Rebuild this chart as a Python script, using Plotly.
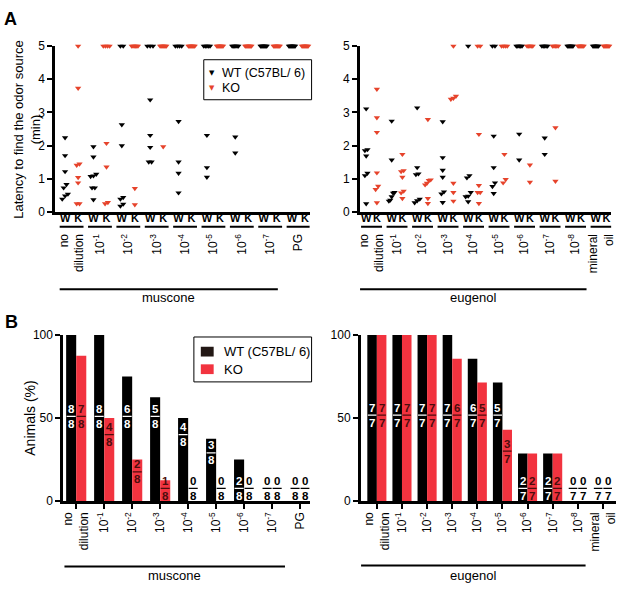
import plotly.graph_objects as go

FIG_W, FIG_H = 640, 591
FONT = "Liberation Sans, Arial, sans-serif"

# ---------------- data ----------------
mus_groups = ["no<br>dilution", "10<sup>-1</sup>", "10<sup>-2</sup>", "10<sup>-3</sup>",
              "10<sup>-4</sup>", "10<sup>-5</sup>", "10<sup>-6</sup>", "10<sup>-7</sup>", "PG"]
eug_groups = ["no<br>dilution", "10<sup>-1</sup>", "10<sup>-2</sup>", "10<sup>-3</sup>",
              "10<sup>-4</sup>", "10<sup>-5</sup>", "10<sup>-6</sup>", "10<sup>-7</sup>",
              "10<sup>-8</sup>", "mineral<br>oil"]
genotype_ticks = ["W", "K"]

# Panel A: latency to find the odor source (min), 5 = cut-off
mus_wt_lat = [
    [2.24, 1.70, 1.22, 0.83, 0.73, 0.54, 0.49, 0.39],
    [1.97, 1.66, 1.14, 1.09, 1.07, 0.73, 0.73, 0.37],
    [5, 5, 2.63, 2.00, 0.44, 0.39, 0.24, 0.18],
    [5, 5, 5, 3.38, 2.31, 1.95, 1.51, 1.51],
    [5, 5, 5, 5, 2.73, 1.51, 1.17, 0.58],
    [5, 5, 5, 5, 5, 2.31, 1.34, 1.05],
    [5, 5, 5, 5, 5, 5, 2.26, 1.78],
    [5, 5, 5, 5, 5, 5, 5, 5],
    [5, 5, 5, 5, 5, 5, 5, 5],
]
mus_ko_lat = [
    [5, 3.73, 1.45, 1.41, 1.04, 0.88, 0.25, 0.25],
    [5, 5, 5, 5, 2.07, 1.36, 0.29, 0.25],
    [5, 5, 5, 5, 5, 5, 0.71, 0.22],
    [5, 5, 5, 5, 5, 5, 5, 1.97],
    [5, 5, 5, 5, 5, 5, 5, 5],
    [5, 5, 5, 5, 5, 5, 5, 5],
    [5, 5, 5, 5, 5, 5, 5, 5],
    [5, 5, 5, 5, 5, 5, 5, 5],
    [5, 5, 5, 5, 5, 5, 5, 5],
]
eug_wt_lat = [
    [3.11, 1.88, 1.85, 1.69, 1.17, 1.10, 0.25],
    [2.74, 1.57, 0.59, 0.57, 0.46, 0.36, 0.33],
    [3.14, 1.34, 1.15, 1.13, 0.39, 0.34, 0.28],
    [2.72, 1.64, 1.26, 1.05, 0.61, 0.55, 0.29],
    [5, 1.10, 1.03, 0.59, 0.48, 0.46, 0.31],
    [5, 5, 2.29, 1.34, 0.88, 0.77, 0.56],
    [5, 5, 5, 5, 5, 2.35, 1.57],
    [5, 5, 5, 5, 5, 2.23, 1.74],
    [5, 5, 5, 5, 5, 5, 5],
    [5, 5, 5, 5, 5, 5, 5],
]
eug_ko_lat = [
    [3.70, 2.84, 2.40, 1.18, 0.78, 0.68, 0.28],
    [1.74, 1.25, 1.22, 1.05, 0.63, 0.58, 0.41],
    [2.79, 0.97, 0.95, 0.87, 0.82, 0.41, 0.26],
    [5, 3.49, 3.43, 3.40, 0.87, 0.59, 0.33],
    [5, 5, 2.34, 0.80, 0.59, 0.59, 0.26],
    [5, 5, 5, 5, 1.74, 0.98, 0.88],
    [5, 5, 5, 5, 5, 1.42, 0.90],
    [5, 5, 5, 5, 5, 2.54, 0.93],
    [5, 5, 5, 5, 5, 5, 5],
    [5, 5, 5, 5, 5, 5, 5],
]

# Panel B: animals (%) that found the source, with counts
mus_wt_pct = [100, 100, 75, 62.5, 50, 37.5, 25, 0, 0]
mus_ko_pct = [87.5, 50, 25, 12.5, 0, 0, 0, 0, 0]
mus_wt_found = [8, 8, 6, 5, 4, 3, 2, 0, 0]
mus_ko_found = [7, 4, 2, 1, 0, 0, 0, 0, 0]
mus_n = 8
eug_wt_pct = [100, 100, 100, 100, 85.7, 71.4, 28.6, 28.6, 0, 0]
eug_ko_pct = [100, 100, 100, 85.7, 71.4, 42.9, 28.6, 28.6, 0, 0]
eug_wt_found = [7, 7, 7, 7, 6, 5, 2, 2, 0, 0]
eug_ko_found = [7, 7, 7, 6, 5, 3, 2, 2, 0, 0]
eug_n = 7

# vertical placement (in % units) of the fraction labels
mus_wt_labpos = [51, 51, 51, 51, 40, 29, 7.6, 7.6, 7.6]
mus_ko_labpos = [51, 40, 17.6, 7.6, 7.6, 7.6, 7.6, 7.6, 7.6]
eug_wt_labpos = [51.7, 51.7, 51.7, 51.7, 51.7, 51.7, 7.6, 7.6, 7.6, 7.6]
eug_ko_labpos = [51.7, 51.7, 51.7, 51.7, 51.7, 30, 7.6, 7.6, 7.6, 7.6]

# ---------------- styles ----------------
WT_PT = "#000000"
KO_PT = "#e6432b"
WT_BAR = "#000000"
KO_BAR = "#f2333f"
WT_SWATCH = "#231815"
KO_TXT = "#4d0d0d"


def px(x):
    return x / FIG_W


def py(y):
    return 1 - y / FIG_H


def spread(vals, base, thr=0.12, step=0.1, maxw=0.22):
    order = sorted(range(len(vals)), key=lambda i: vals[i])
    xs = [base] * len(vals)
    clusters, cur = [], [order[0]]
    for i in order[1:]:
        if vals[i] - vals[cur[-1]] < thr:
            cur.append(i)
        else:
            clusters.append(cur)
            cur = [i]
    clusters.append(cur)
    for c in clusters:
        k = len(c)
        if k < 2:
            continue
        s = min(step, maxw / (k - 1))
        for j, i in enumerate(c):
            xs[i] = base + (j - (k - 1) / 2) * s
    return xs


# x-axis geometry (pixel domain + data range)
xA1 = dict(domain=[px(53), px(310)], range=[-0.57, 8.39])
xA2 = dict(domain=[px(361), px(615)], range=[-0.45, 9.4])
xB1 = dict(domain=[px(61), px(310)], range=[-0.46, 8.34])
xB2 = dict(domain=[px(362), px(620)], range=[-0.63, 9.53])

fig = go.Figure()
shapes = []
annots = []

# ---------------- Panel A ----------------
panelA = [
    ("x", "y", "x5", mus_wt_lat, mus_ko_lat, 0.23, 0.42, mus_groups),
    ("x2", "y2", "x6", eug_wt_lat, eug_ko_lat, 0.21, 0.41, eug_groups),
]
for xa, ya, xcat, wt, ko, off, ul, groups in panelA:
    for lat, sign, col, name in [(wt, -1, WT_PT, "WT (C57BL/ 6)"), (ko, 1, KO_PT, "KO")]:
        xs, ys = [], []
        for g, vals in enumerate(lat):
            xs += spread(vals, g + sign * off)
            ys += vals
        fig.add_trace(go.Scatter(
            x=xs, y=ys, mode="markers", xaxis=xa, yaxis=ya, name=name,
            showlegend=False, cliponaxis=False,
            marker=dict(symbol="triangle-down", size=5.5, color=col, line=dict(width=0)),
        ))
    fig.add_trace(go.Scatter(x=list(range(len(groups))), y=[None] * len(groups),
                             xaxis=xcat, yaxis=ya, mode="markers", showlegend=False,
                             hoverinfo="skip"))
    for g in range(len(groups)):
        shapes.append(dict(type="line", xref=xa, yref="paper", x0=g - ul, x1=g + ul,
                           y0=py(225), y1=py(225), line=dict(color="black", width=2)))

# ---------------- Panel B ----------------
panelB = [
    ("x3", "y3", "x7", mus_wt_pct, mus_ko_pct, mus_wt_found, mus_ko_found, mus_n,
     mus_wt_labpos, mus_ko_labpos, 0.36, mus_groups),
    ("x4", "y4", "x8", eug_wt_pct, eug_ko_pct, eug_wt_found, eug_ko_found, eug_n,
     eug_wt_labpos, eug_ko_labpos, 0.38, eug_groups),
]
for xa, ya, xcat, wpct, kpct, wf, kf, n, wl, kl, bw, groups in panelB:
    idx = list(range(len(groups)))
    fig.add_trace(go.Bar(x=idx, y=wpct, xaxis=xa, yaxis=ya, name="WT (C57BL/ 6)",
                         width=bw, offset=-bw, marker=dict(color=WT_BAR, line=dict(width=0)),
                         showlegend=False))
    fig.add_trace(go.Bar(x=idx, y=kpct, xaxis=xa, yaxis=ya, name="KO",
                         width=bw, offset=0, marker=dict(color=KO_BAR, line=dict(width=0)),
                         showlegend=False))
    fig.add_trace(go.Scatter(x=idx, y=[None] * len(idx), xaxis=xcat, yaxis=ya,
                             mode="markers", showlegend=False, hoverinfo="skip"))
    for i in idx:
        for pct, found, lp, cx, inside_col in [
            (wpct[i], wf[i], wl[i], i - bw / 2, "white"),
            (kpct[i], kf[i], kl[i], i + bw / 2, KO_TXT),
        ]:
            col = inside_col if pct > lp + 3 else "black"
            annots.append(dict(xref=xa, yref=ya, x=cx, y=lp, text=f"{found}<br>{n}",
                               showarrow=False, xanchor="center", yanchor="middle",
                               font=dict(size=11.5, family=FONT, color=col, weight="bold")))
            hw = bw * 0.45
            shapes.append(dict(type="line", xref=xa, yref=ya, x0=cx - hw, x1=cx + hw,
                               y0=lp, y1=lp, line=dict(color=col, width=1.3)))

# ---------------- odor group lines ----------------
for xa, x0, x1, yl, yt, txt in [
    ("x", -0.42, 7.27, 289, 298, "muscone"),
    ("x2", -0.48, 8.43, 289, 298, "eugenol"),
    ("x3", -0.42, 7.46, 573, 582, "muscone"),
    ("x4", -0.63, 8.31, 572, 582, "eugenol"),
]:
    shapes.append(dict(type="line", xref=xa, yref="paper", x0=x0, x1=x1, y0=py(yl), y1=py(yl),
                       line=dict(color="black", width=2)))
    annots.append(dict(xref=xa, yref="paper", x=(x0 + x1) / 2, y=py(yt), text=txt,
                       showarrow=False, xanchor="center", yanchor="middle",
                       font=dict(size=13, family=FONT, color="black")))

# ---------------- y-axis titles ----------------
annots.append(dict(xref="paper", yref="paper", x=px(24), y=py(125),
                   text="Latency to find the odor source<br>(min)", showarrow=False,
                   textangle=-90, xanchor="center", yanchor="middle",
                   font=dict(size=13, family=FONT, color="black")))
annots.append(dict(xref="paper", yref="paper", x=px(27), y=py(421), text="Animals (%)",
                   showarrow=False, textangle=-90, xanchor="center", yanchor="middle",
                   font=dict(size=14, family=FONT, color="black")))

# ---------------- manual legends ----------------
shapes.append(dict(type="rect", xref="paper", yref="paper", x0=px(203), x1=px(312),
                   y0=py(54), y1=py(95), line=dict(color="black", width=1), fillcolor="white"))
for yy, col, txt in [(68, WT_PT, "WT (C57BL/ 6)"), (83, KO_PT, "KO")]:
    annots.append(dict(xref="paper", yref="paper", x=px(211), y=py(yy), text="▼",
                       showarrow=False, xanchor="center", yanchor="middle",
                       font=dict(size=7, family="DejaVu Sans", color=col)))
    annots.append(dict(xref="paper", yref="paper", x=px(219), y=py(yy), text=txt,
                       showarrow=False, xanchor="left", yanchor="middle",
                       font=dict(size=12.5, family=FONT, color="black")))
shapes.append(dict(type="rect", xref="paper", yref="paper", x0=px(193), x1=px(312),
                   y0=py(338), y1=py(384), line=dict(color="black", width=1), fillcolor="white"))
for y0, y1, col, txt in [(348, 358, WT_SWATCH, "WT (C57BL/ 6)"), (366, 376, KO_BAR, "KO")]:
    shapes.append(dict(type="rect", xref="paper", yref="paper", x0=px(200), x1=px(213),
                       y0=py(y0), y1=py(y1), line=dict(width=0), fillcolor=col))
    annots.append(dict(xref="paper", yref="paper", x=px(221), y=py((y0 + y1) / 2), text=txt,
                       showarrow=False, xanchor="left", yanchor="middle",
                       font=dict(size=13, family=FONT, color="black")))

for xx, yy, t in [(8, 12, "A"), (9, 323, "B")]:
    annots.append(dict(xref="paper", yref="paper", x=px(xx), y=py(yy), text=f"<b>{t}</b>",
                       showarrow=False, xanchor="center", yanchor="middle",
                       font=dict(size=18, family=FONT, color="black")))

# ---------------- axes ----------------
axis_common = dict(showgrid=False, zeroline=False, showline=True, linecolor="black",
                   linewidth=3, tickfont=dict(size=12, family=FONT, color="black"))

yA = dict(axis_common, range=[0, 5], tickvals=[0, 1, 2, 3, 4, 5], ticks="outside",
          ticklen=5, tickwidth=2, tickcolor="black", domain=[py(210), py(40)])
yB = dict(axis_common, range=[0, 100], tickvals=[0, 50, 100], ticks="outside",
          ticklen=5, tickwidth=2, tickcolor="black", domain=[py(506), py(336)])


def wk_ticks(ngroups, off):
    vals, txt = [], []
    for g in range(ngroups):
        vals += [g - off, g + off]
        txt += genotype_ticks
    return vals, txt


tv1, tt1 = wk_ticks(len(mus_groups), 0.23)
tv2, tt2 = wk_ticks(len(eug_groups), 0.21)

wk_font = dict(size=11, family=FONT, color="black", weight="bold")
cat_axis = dict(showgrid=False, zeroline=False, showline=False, ticks="", tickangle=-90,
                anchor="free", side="bottom",
                tickfont=dict(size=12, family=FONT, color="black"))

fig.update_layout(
    width=FIG_W, height=FIG_H, margin=dict(l=0, r=0, t=0, b=0),
    paper_bgcolor="white", plot_bgcolor="white", showlegend=False,
    font=dict(family=FONT, color="black"),
    xaxis=dict(axis_common, **xA1, anchor="y", tickvals=tv1, ticktext=tt1, ticks="",
               tickangle=0, ticklabelstandoff=-6, tickfont=wk_font),
    yaxis=dict(yA, anchor="x"),
    xaxis2=dict(axis_common, **xA2, anchor="y2", tickvals=tv2, ticktext=tt2, ticks="",
                tickangle=0, ticklabelstandoff=-6, tickfont=wk_font),
    yaxis2=dict(yA, anchor="x2"),
    xaxis5=dict(cat_axis, **xA1, overlaying="x", position=py(229),
                tickvals=list(range(len(mus_groups))), ticktext=mus_groups),
    xaxis6=dict(cat_axis, **xA2, overlaying="x2", position=py(229),
                tickvals=list(range(len(eug_groups))), ticktext=eug_groups),
    xaxis3=dict(axis_common, **xB1, anchor="y3",
                tickvals=list(range(len(mus_groups))), showticklabels=False,
                ticks="outside", ticklen=5, tickwidth=2, tickcolor="black"),
    yaxis3=dict(yB, anchor="x3"),
    xaxis4=dict(axis_common, **xB2, anchor="y4",
                tickvals=list(range(len(eug_groups))), showticklabels=False,
                ticks="outside", ticklen=5, tickwidth=2, tickcolor="black"),
    yaxis4=dict(yB, anchor="x4"),
    xaxis7=dict(cat_axis, **xB1, overlaying="x3", position=py(514),
                tickvals=list(range(len(mus_groups))), ticktext=mus_groups),
    xaxis8=dict(cat_axis, **xB2, overlaying="x4", position=py(514),
                tickvals=list(range(len(eug_groups))), ticktext=eug_groups),
    shapes=shapes,
    annotations=annots,
)

fig.write_html("out.html", config={"displayModeBar": False},
               post_script="document.body.style.margin='0';document.body.style.padding='0';")
